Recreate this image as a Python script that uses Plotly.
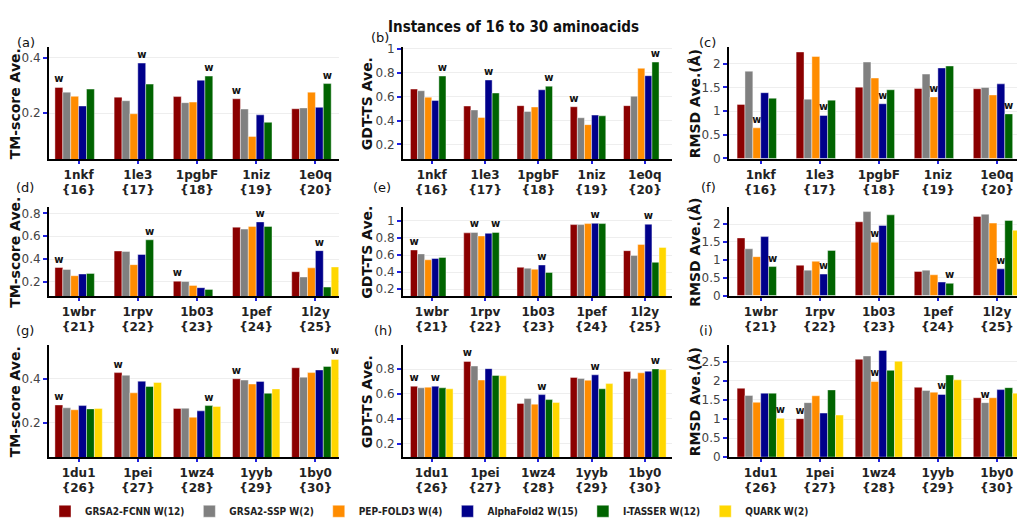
import plotly.graph_objects as go

# ---------------- data ----------------
methods = ["GRSA2-FCNN", "GRSA2-SSP", "PEP-FOLD3", "AlphaFold2", "I-TASSER", "QUARK"]
colors = ["#8B0000", "#808080", "#FF8C00", "#00008B", "#006400", "#FFD700"]

cats_row1 = ["1nkf<br>{16}", "1le3<br>{17}", "1pgbF<br>{18}", "1niz<br>{19}", "1e0q<br>{20}"]
cats_row2 = ["1wbr<br>{21}", "1rpv<br>{22}", "1b03<br>{23}", "1pef<br>{24}", "1l2y<br>{25}"]
cats_row3 = ["1du1<br>{26}", "1pei<br>{27}", "1wz4<br>{28}", "1yyb<br>{29}", "1by0<br>{30}"]

# values per method (rows in the order of `methods`)
tm_row1 = [
    [0.293, 0.258, 0.260, 0.252, 0.216],
    [0.276, 0.245, 0.238, 0.215, 0.219],
    [0.261, 0.198, 0.240, 0.116, 0.276],
    [0.226, 0.381, 0.319, 0.194, 0.221],
    [0.287, 0.305, 0.334, 0.167, 0.307],
    [None, None, None, None, None],
]
gdt_row1 = [
    [0.664, 0.522, 0.525, 0.516, 0.525],
    [0.650, 0.489, 0.476, 0.424, 0.604],
    [0.596, 0.426, 0.514, 0.366, 0.838],
    [0.568, 0.740, 0.658, 0.446, 0.776],
    [0.773, 0.631, 0.688, 0.440, 0.890],
    [None, None, None, None, None],
]
rmsd_row1 = [
    [1.140, 2.246, 1.504, 1.477, 1.470],
    [1.840, 1.250, 2.033, 1.779, 1.497],
    [0.646, 2.150, 1.696, 1.298, 1.339],
    [1.387, 0.907, 1.154, 1.909, 1.573],
    [1.270, 1.230, 1.449, 1.950, 0.940],
    [None, None, None, None, None],
]
tm_row2 = [
    [0.326, 0.471, 0.206, 0.680, 0.289],
    [0.309, 0.466, 0.203, 0.663, 0.243],
    [0.254, 0.351, 0.169, 0.686, 0.323],
    [0.269, 0.440, 0.149, 0.726, 0.474],
    [0.274, 0.569, 0.134, 0.686, 0.154],
    [None, None, None, None, 0.331],
]
gdt_row2 = [
    [0.659, 0.860, 0.456, 0.957, 0.651],
    [0.613, 0.865, 0.445, 0.957, 0.594],
    [0.544, 0.823, 0.433, 0.969, 0.724],
    [0.559, 0.854, 0.483, 0.972, 0.961],
    [0.571, 0.865, 0.395, 0.969, 0.514],
    [None, None, None, None, 0.689],
]
rmsd_row2 = [
    [1.613, 0.848, 2.065, 0.673, 2.212],
    [1.309, 0.710, 2.350, 0.710, 2.276],
    [1.088, 0.959, 1.493, 0.581, 2.028],
    [1.650, 0.600, 1.963, 0.378, 0.747],
    [0.811, 1.263, 2.258, 0.341, 2.101],
    [None, None, None, None, 1.825],
]
tm_row3 = [
    [0.280, 0.427, 0.264, 0.399, 0.449],
    [0.267, 0.415, 0.265, 0.393, 0.406],
    [0.258, 0.335, 0.224, 0.375, 0.427],
    [0.277, 0.388, 0.253, 0.387, 0.439],
    [0.262, 0.364, 0.277, 0.333, 0.455],
    [0.264, 0.382, 0.273, 0.353, 0.487],
]
gdt_row3 = [
    [0.663, 0.863, 0.524, 0.734, 0.782],
    [0.650, 0.826, 0.563, 0.726, 0.726],
    [0.655, 0.713, 0.518, 0.711, 0.771],
    [0.663, 0.805, 0.595, 0.755, 0.784],
    [0.650, 0.750, 0.555, 0.642, 0.803],
    [0.642, 0.747, 0.532, 0.684, 0.797],
]
rmsd_row3 = [
    [1.807, 1.010, 2.568, 1.832, 1.558],
    [1.618, 1.430, 2.654, 1.747, 1.430],
    [1.438, 1.610, 1.986, 1.704, 1.558],
    [1.678, 1.156, 2.800, 1.644, 1.772],
    [1.678, 1.764, 2.277, 2.158, 1.824],
    [1.019, 1.104, 2.517, 2.029, 1.678],
]

y_titles = ["TM-score Ave.", "GDT-TS Ave.", "RMSD Ave.(Å)"]
panel_letters = ["(a)", "(b)", "(c)", "(d)", "(e)", "(f)", "(g)", "(h)", "(i)"]
title_text = "Instances of 16 to 30 aminoacids"

# ---------------- layout helpers ----------------
W, H = 1017, 529
panels = [
    (cats_row1, tm_row1, "max"), (cats_row1, gdt_row1, "max"), (cats_row1, rmsd_row1, "min"),
    (cats_row2, tm_row2, "max"), (cats_row2, gdt_row2, "max"), (cats_row2, rmsd_row2, "min"),
    (cats_row3, tm_row3, "max"), (cats_row3, gdt_row3, "max"), (cats_row3, rmsd_row3, "min"),
]
col_px = [(49, 338.5), (403, 672), (729, 1017)]
row_px = [(43, 158), (207, 298), (348, 463)]
x_ranges = [[-0.5, 4.39], [-0.54, 4.51], [-0.537, 4.34]]
y_ranges = [
    [0.033, 0.439], [0.075, 1.016], [-0.02, 2.35],
    [0.074, 0.854], [0.116, 1.16], [-0.02, 2.47],
    [0.041, 0.552], [0.087, 0.995], [-0.01, 2.94],
]
y_ticks = [
    [0.2, 0.4], [0.2, 0.4, 0.6, 0.8, 1], [0, 0.5, 1, 1.5, 2],
    [0.2, 0.4, 0.6, 0.8], [0.2, 0.4, 0.6, 0.8, 1], [0, 0.5, 1, 1.5, 2],
    [0.2, 0.4], [0.2, 0.4, 0.6, 0.8], [0, 0.5, 1, 1.5, 2, 2.5],
]

BLUE_TICK = "#2020e0"
fig = go.Figure()

# winners per panel -> 'w' labels and legend counts
win_counts = [0] * len(methods)
panel_texts = []
for cats, vals, mode in panels:
    texts = [["" for _ in cats] for _ in methods]
    for j in range(len(cats)):
        col = [(vals[m][j], m) for m in range(len(methods)) if vals[m][j] is not None]
        best = max(v for v, _ in col) if mode == "max" else min(v for v, _ in col)
        for v, m in col:
            if abs(v - best) < 1e-9:
                texts[m][j] = "w"
                win_counts[m] += 1
    panel_texts.append(texts)

for k, (cats, vals, mode) in enumerate(panels):
    ax = "" if k == 0 else str(k + 1)
    for m in range(len(methods)):
        fig.add_trace(go.Bar(
            x=cats, y=vals[m],
            name=f"{methods[m]} W({win_counts[m]})",
            marker=dict(color=colors[m], line=dict(color="rgba(255,255,255,0.7)", width=0.6)),
            text=panel_texts[k][m], textposition="outside", textangle=0,
            constraintext="none",
            textfont=dict(size=10, color="#111", family="DejaVu Sans", weight="bold"),
            xaxis="x" + ax, yaxis="y" + ax,
            showlegend=(k == 0), hoverinfo="skip",
        ))

layout = dict(
    width=W, height=H,
    margin=dict(l=0, r=0, t=0, b=0),
    paper_bgcolor="white", plot_bgcolor="white",
    barmode="group", bargap=0.2, bargroupgap=0,
    font=dict(family="DejaVu Sans", size=12, color="#222"),
    legend=dict(
        orientation="h", x=45 / W, xanchor="left", y=1 - 518 / H, yanchor="middle",
        font=dict(family="DejaVu Sans Condensed, DejaVu Sans", size=10, color="#222", weight="bold"),
        itemwidth=30, traceorder="normal", bgcolor="rgba(0,0,0,0)",
    ),
    annotations=[],
    showlegend=True,
)

for k in range(9):
    r, c = divmod(k, 3)
    ax = "" if k == 0 else str(k + 1)
    x0, x1 = col_px[c]
    y0, y1 = row_px[r]
    layout["xaxis" + ax] = dict(
        domain=[x0 / W, min(x1 / W, 1.0)], anchor="y" + ax,
        type="category", range=x_ranges[c],
        showline=True, linecolor="black", linewidth=2,
        ticks="outside", ticklen=3, tickwidth=1.5, tickcolor=BLUE_TICK,
        tickfont=dict(size=12, color="#222", family="DejaVu Sans", weight="bold"),
        showgrid=False, zeroline=False, fixedrange=True,
    )
    layout["yaxis" + ax] = dict(
        domain=[1 - y1 / H, 1 - y0 / H], anchor="x" + ax,
        range=y_ranges[k], tickvals=y_ticks[k],
        showline=True, linecolor="black", linewidth=2,
        ticks="outside", ticklen=4, tickwidth=2, tickcolor=BLUE_TICK,
        tickfont=dict(size=12, color="#444", family="DejaVu Sans"),
        showgrid=True, gridcolor="#eeeeee", gridwidth=1, zeroline=False, fixedrange=True,
    )

# y-axis titles
title_x = [15, 367, 695]
for k in range(9):
    r, c = divmod(k, 3)
    y0, y1 = row_px[r]
    layout["annotations"].append(dict(
        text=y_titles[c], textangle=-90, showarrow=False,
        x=title_x[c] / W, y=1 - ((y0 + y1) / 2 + 1) / H, xref="paper", yref="paper",
        xanchor="center", yanchor="middle",
        font=dict(family="DejaVu Sans", size=14, color="#111", weight="bold"),
    ))

# panel letters
letter_pos = [(26, 38), (380, 33), (707, 38), (25, 187), (382, 187), (708, 187),
              (25, 333), (383, 333), (706, 333)]
for k, (px, py) in enumerate(letter_pos):
    layout["annotations"].append(dict(
        text=panel_letters[k], showarrow=False, x=px / W, y=1 - py / H,
        xref="paper", yref="paper", xanchor="center", yanchor="middle",
        font=dict(family="DejaVu Sans", size=13, color="#111"),
    ))

# main title
layout["annotations"].append(dict(
    text=title_text, showarrow=False, x=513 / W, y=1 - 23 / H,
    xref="paper", yref="paper", xanchor="center", yanchor="middle",
    font=dict(family="DejaVu Sans Condensed, DejaVu Sans", size=15, color="#111", weight="bold"),
))

fig.update_layout(**layout)
fig.write_html("out.html")
